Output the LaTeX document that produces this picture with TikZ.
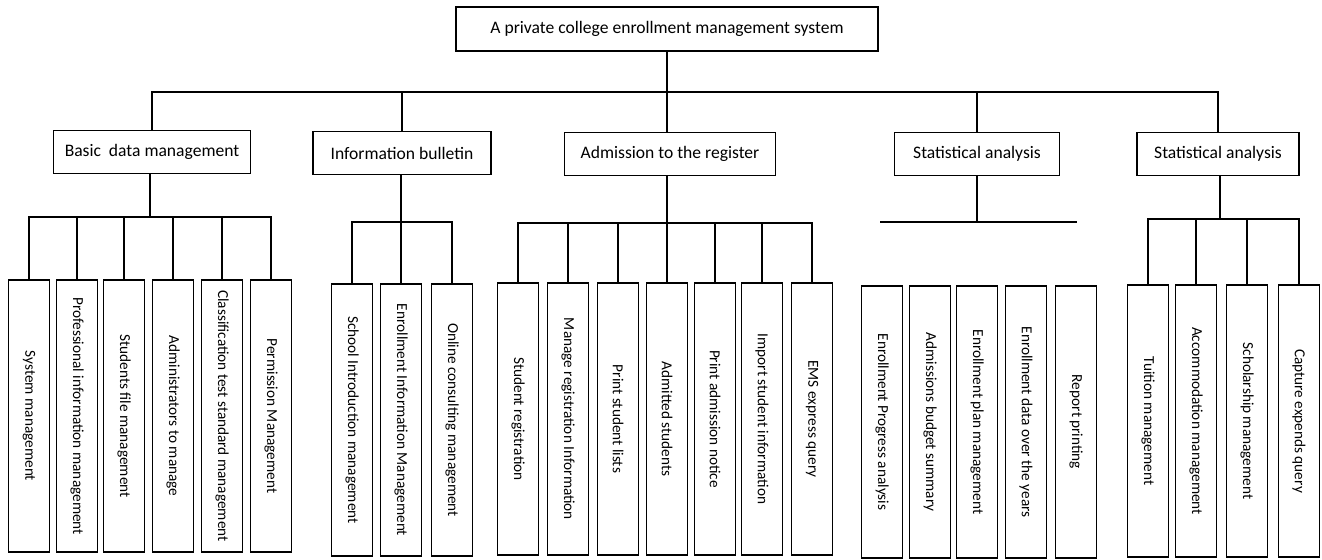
\documentclass[tikz,border=0pt]{standalone}
\usepackage{fontspec}
\setmainfont{Carlito}
\begin{document}
\begin{tikzpicture}[x=0.02cm,y=-0.02cm,
    box/.style={draw,line width=0.9pt,inner sep=0pt,minimum height=0.86cm,font=\fontsize{10}{12}\selectfont},
    leaf/.style={draw,line width=0.9pt,inner sep=0pt,minimum width=0.82cm,minimum height=5.44cm,font=\fontsize{8.7}{10}\selectfont},
    link/.style={line width=0.8pt}]
  \useasboundingbox (0,0) rectangle (1322,560);
  % root
  \node[box,minimum width=8.44cm,minimum height=0.88cm] (root) at (667,29) {A private college enrollment management system};
  % second level
  \node[box,minimum width=3.94cm] (basic) at (152,152) {Basic\ \ data management};
  \node[box,minimum width=3.56cm] (info) at (402,153) {Information bulletin};
  \node[box,minimum width=4.22cm] (admit) at (670,154) {Admission to the register};
  \node[box,minimum width=3.30cm] (stat) at (977,154) {Statistical analysis};
  \node[box,minimum width=3.24cm] (statb) at (1218,154) {Statistical analysis};
  % top bus
  \coordinate (rootbus) at (667,92);
  \draw[link] (root) -- (rootbus);
  \draw[link] (basic) |- (rootbus);
  \draw[link] (info) |- (rootbus);
  \draw[link] (admit.north -| rootbus) -- (rootbus);
  \draw[link] (stat) |- (rootbus);
  \draw[link] (statb) |- (rootbus);
  % basic data management
  \node[leaf] (basic1) at (29,416) {\rotatebox{-90}{System management}};
  \node[leaf] (basic2) at (77,416) {\rotatebox{-90}{Professional information management}};
  \node[leaf] (basic3) at (124,416) {\rotatebox{-90}{Students file management}};
  \node[leaf] (basic4) at (173,416) {\rotatebox{-90}{Administrators to manage}};
  \node[leaf] (basic5) at (222,416) {\rotatebox{-90}{Classification test standard management}};
  \node[leaf] (basic6) at (271,416) {\rotatebox{-90}{Permission Management}};
  \coordinate (basicbus) at (150,217);
  \draw[link] (basic.south -| basicbus) -- (basicbus);
  \draw[link] (basic1) |- (basicbus);
  \draw[link] (basic2) |- (basicbus);
  \draw[link] (basic3) |- (basicbus);
  \draw[link] (basic4) |- (basicbus);
  \draw[link] (basic5) |- (basicbus);
  \draw[link] (basic6) |- (basicbus);
  % information bulletin
  \node[leaf] (info1) at (352,420) {\rotatebox{-90}{School Introduction management}};
  \node[leaf] (info2) at (401,420) {\rotatebox{-90}{Enrollment Information Management}};
  \node[leaf] (info3) at (452,420) {\rotatebox{-90}{Online consulting management}};
  \coordinate (infobus) at (401,222);
  \draw[link] (info.south -| infobus) -- (infobus);
  \draw[link] (info1) |- (infobus);
  \draw[link] (info2) |- (infobus);
  \draw[link] (info3) |- (infobus);
  % admission to the register
  \node[leaf] (admit1) at (518,419) {\rotatebox{-90}{Student registration}};
  \node[leaf] (admit2) at (568,419) {\rotatebox{-90}{Manage registration Information}};
  \node[leaf] (admit3) at (618,419) {\rotatebox{-90}{Print student lists}};
  \node[leaf] (admit4) at (667,419) {\rotatebox{-90}{Admitted students}};
  \node[leaf] (admit5) at (715,419) {\rotatebox{-90}{Print admission notice}};
  \node[leaf] (admit6) at (762,419) {\rotatebox{-90}{Import student information}};
  \node[leaf] (admit7) at (812,419) {\rotatebox{-90}{EMS express query}};
  \coordinate (admitbus) at (667,223);
  \draw[link] (admit.south -| admitbus) -- (admitbus);
  \draw[link] (admit1) |- (admitbus);
  \draw[link] (admit2) |- (admitbus);
  \draw[link] (admit3) |- (admitbus);
  \draw[link] (admit4) -- (admitbus);
  \draw[link] (admit5) |- (admitbus);
  \draw[link] (admit6) |- (admitbus);
  \draw[link] (admit7) |- (admitbus);
  % statistical analysis (no links to its boxes)
  \node[leaf] (stat1) at (882,422) {\rotatebox{-90}{Enrollment Progress analysis}};
  \node[leaf] (stat2) at (930,422) {\rotatebox{-90}{Admissions budget summary}};
  \node[leaf] (stat3) at (977,422) {\rotatebox{-90}{Enrollment plan management}};
  \node[leaf] (stat4) at (1026,422) {\rotatebox{-90}{Enrollment data over the years}};
  \node[leaf] (stat5) at (1076,422) {\rotatebox{-90}{Report printing}};
  \coordinate (statl) at (880,222);
  \coordinate (statr) at (1077,222);
  \draw[link] (statl) -- (statr);
  \draw[link] (stat) -- (stat |- statl);
  % second statistical analysis
  \node[leaf] (statb1) at (1148,421) {\rotatebox{-90}{Tuition management}};
  \node[leaf] (statb2) at (1196,421) {\rotatebox{-90}{Accommodation management}};
  \node[leaf] (statb3) at (1247,421) {\rotatebox{-90}{Scholarship management}};
  \node[leaf] (statb4) at (1299,421) {\rotatebox{-90}{Capture expends query}};
  \coordinate (statbbus) at (1220,219);
  \draw[link] (statb.south -| statbbus) -- (statbbus);
  \draw[link] (statb1) |- (statbbus);
  \draw[link] (statb2) |- (statbbus);
  \draw[link] (statb3) |- (statbbus);
  \draw[link] (statb4) |- (statbbus);
\end{tikzpicture}
\end{document}
